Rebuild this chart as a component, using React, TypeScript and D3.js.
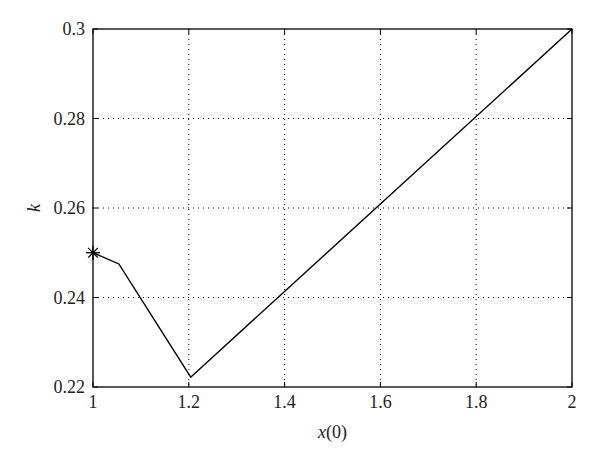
import React from "react";
import * as d3 from "d3";

const xValues = [1, 1.054, 1.204, 2];
const kValues = [0.25, 0.2475, 0.2222, 0.3];
const xTicks = [1, 1.2, 1.4, 1.6, 1.8, 2];
const yTicks = [0.22, 0.24, 0.26, 0.28, 0.3];
const xTickLabels = ["1", "1.2", "1.4", "1.6", "1.8", "2"];
const yTickLabels = ["0.22", "0.24", "0.26", "0.28", "0.3"];

export default function App() {
  const W = 600, H = 465;
  const L = 93, R = 572, T = 29, B = 387;
  const x = d3.scaleLinear().domain([1, 2]).range([L, R]);
  const y = d3.scaleLinear().domain([0.22, 0.3]).range([B, T]);
  const pts = xValues.map((v, i) => [x(v), y(kValues[i])] as [number, number]);
  const line = d3.line()(pts) || "";
  const textStyle: React.CSSProperties = { fontFamily: "'Liberation Serif', 'DejaVu Serif', serif" };
  const sx = x(xValues[0]), sy = y(kValues[0]);
  const s = 7;
  return (
    <svg width={W} height={H} style={{ position: "absolute", left: 0, top: 0, background: "#fff" }}>
      <rect x={0} y={0} width={W} height={H} fill="#fff" />
      {xTicks.slice(1, -1).map((t) => (
        <line key={"gx" + t} x1={x(t)} x2={x(t)} y1={T} y2={B} stroke="#000" strokeWidth={1} strokeDasharray="1,4" />
      ))}
      {yTicks.slice(1, -1).map((t) => (
        <line key={"gy" + t} x1={L} x2={R} y1={y(t)} y2={y(t)} stroke="#000" strokeWidth={1} strokeDasharray="1,4" />
      ))}
      {xTicks.map((t) => (
        <g key={"tx" + t}>
          <line x1={x(t)} x2={x(t)} y1={B} y2={B - 5} stroke="#000" />
          <line x1={x(t)} x2={x(t)} y1={T} y2={T + 5} stroke="#000" />
        </g>
      ))}
      {yTicks.map((t) => (
        <g key={"ty" + t}>
          <line x1={L} x2={L + 5} y1={y(t)} y2={y(t)} stroke="#000" />
          <line x1={R} x2={R - 5} y1={y(t)} y2={y(t)} stroke="#000" />
        </g>
      ))}
      <rect x={L} y={T} width={R - L} height={B - T} fill="none" stroke="#000" strokeWidth={1.3} />
      <path d={line} fill="none" stroke="#000" strokeWidth={1.4} />
      <g stroke="#000" strokeWidth={1.3}>
        <line x1={sx - s} x2={sx + s} y1={sy} y2={sy} />
        <line x1={sx} x2={sx} y1={sy - s} y2={sy + s} />
        <line x1={sx - s * 0.7} x2={sx + s * 0.7} y1={sy - s * 0.7} y2={sy + s * 0.7} />
        <line x1={sx - s * 0.7} x2={sx + s * 0.7} y1={sy + s * 0.7} y2={sy - s * 0.7} />
      </g>
      {xTicks.map((t, i) => (
        <text key={"lx" + t} x={x(t)} y={B + 21} textAnchor="middle" style={textStyle} fontSize={18} fill="#222">
          {xTickLabels[i]}
        </text>
      ))}
      {yTicks.map((t, i) => (
        <text key={"ly" + t} x={L - 8} y={y(t) + 6} textAnchor="end" style={textStyle} fontSize={18} fill="#222">
          {yTickLabels[i]}
        </text>
      ))}
      <text x={(L + R) / 2} y={438} textAnchor="middle" style={textStyle} fontSize={18} fill="#222">
        <tspan fontStyle="italic">x</tspan>(0)
      </text>
      <text x={40} y={208} textAnchor="middle" style={textStyle} fontSize={18} fontStyle="italic" fill="#222"
        transform="rotate(-90, 40, 208)">
        k
      </text>
    </svg>
  );
}
